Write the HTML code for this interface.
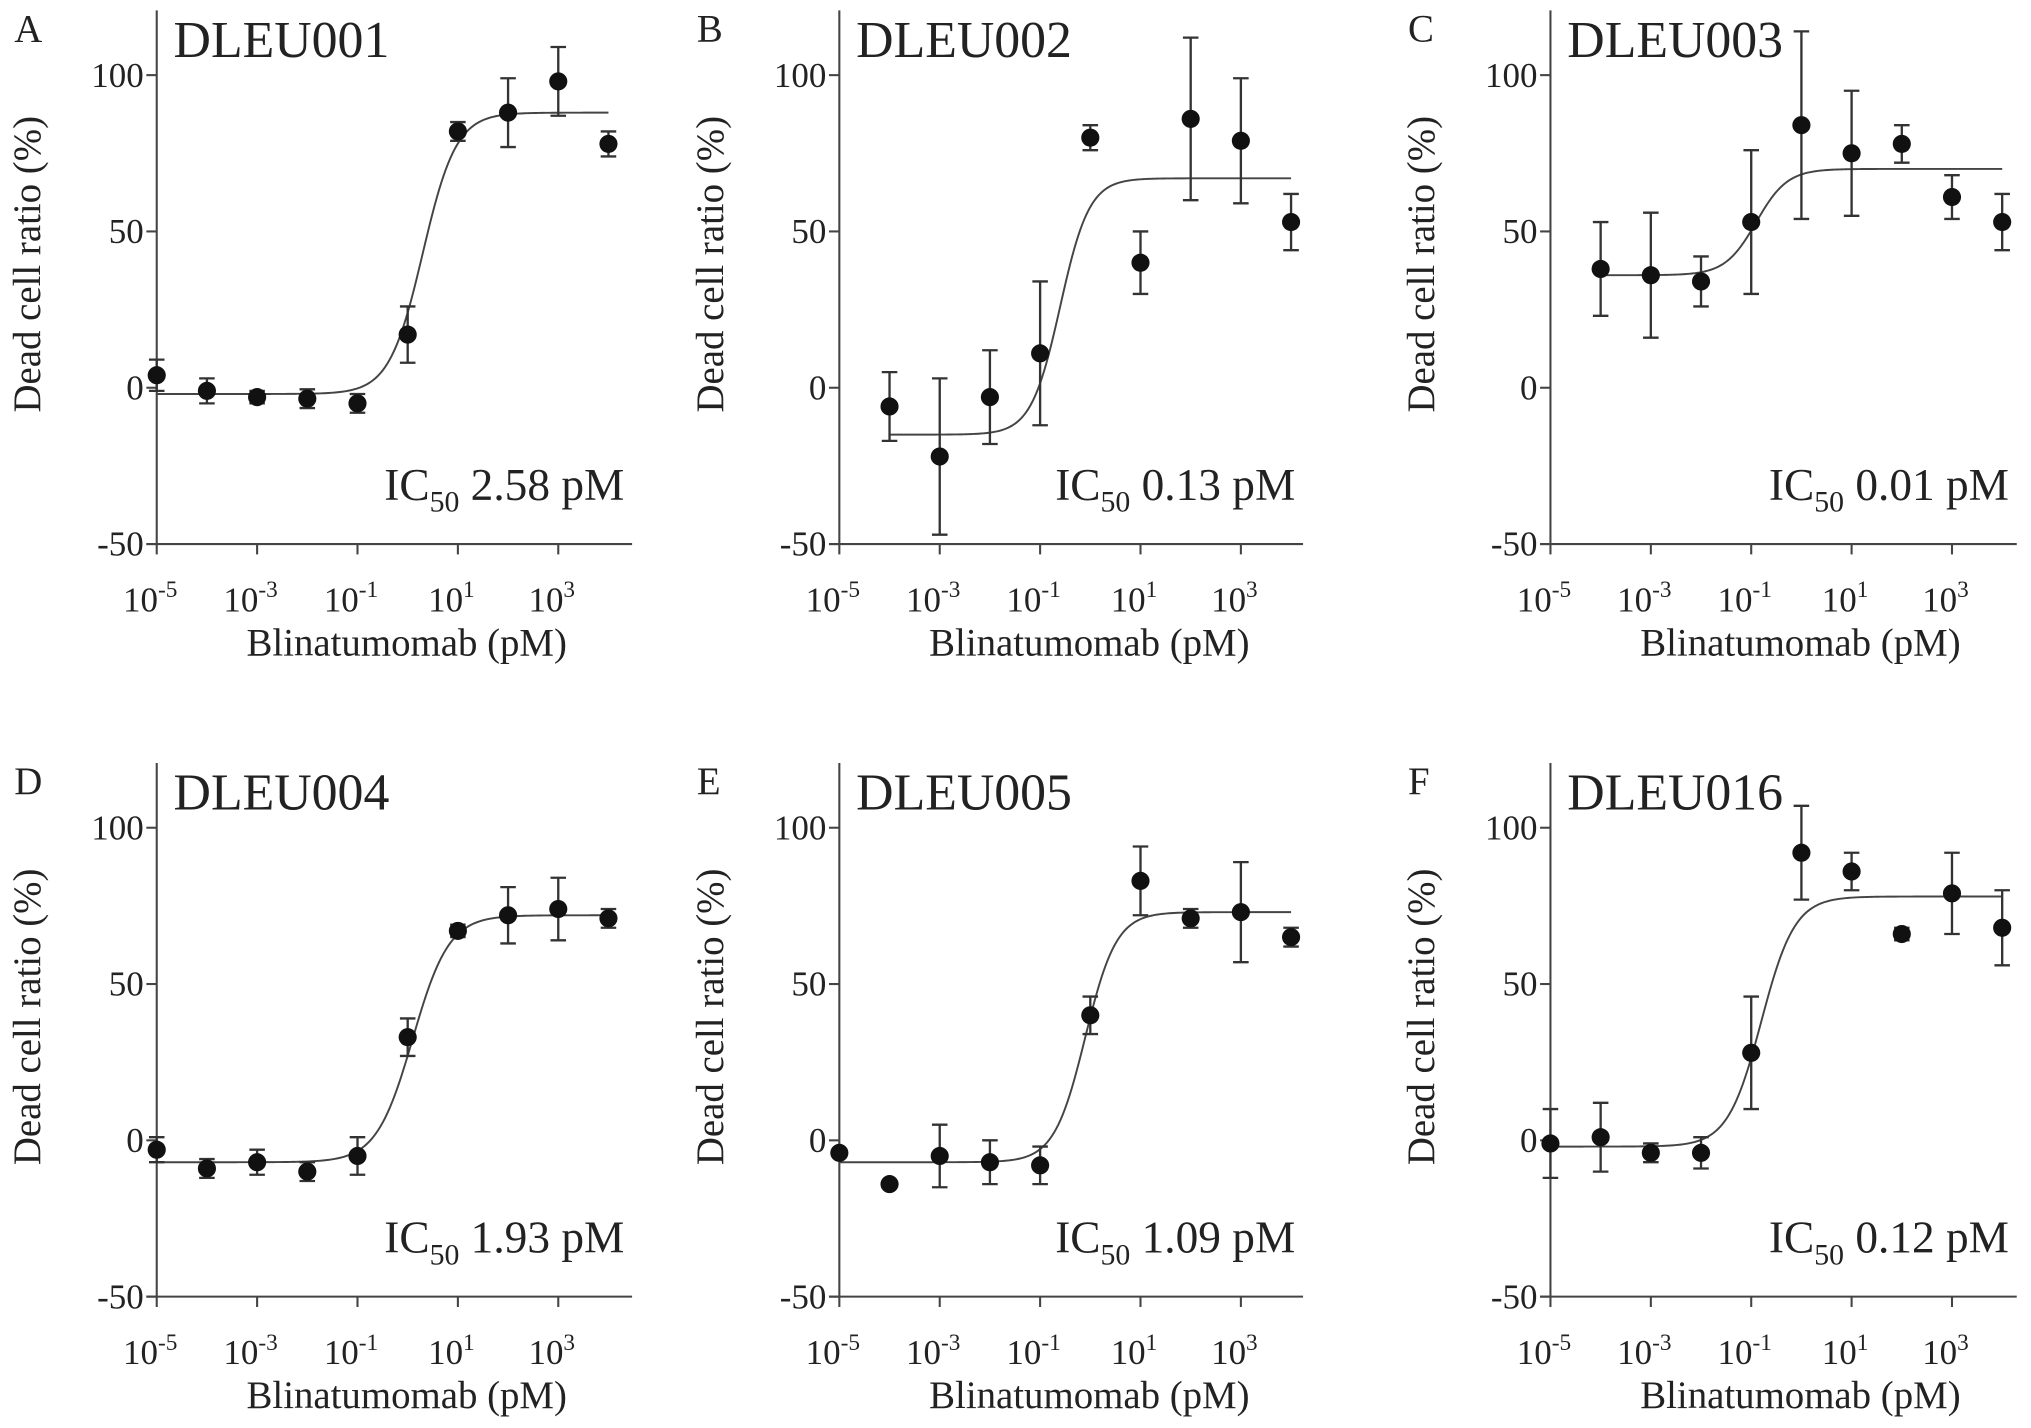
<!DOCTYPE html>
<html><head><meta charset="utf-8"><style>
html,body{margin:0;padding:0;background:#fff;}
svg{display:block;}
text{font-family:"Liberation Serif","DejaVu Serif",serif;fill:#222;}
</style></head>
<body>
<svg id="fig" width="2031" height="1428" viewBox="0 0 1568 1102.4" preserveAspectRatio="none" xmlns="http://www.w3.org/2000/svg"></svg>
<script>
// ---- data ----
const panelLetters = ["A","B","C","D","E","F"];
const sampleNames = ["DLEU001","DLEU002","DLEU003","DLEU004","DLEU005","DLEU016"];
const ic50Labels = ["2.58","0.13","0.01","1.93","1.09","0.12"];
const startLogs = [-5,-4,-4,-5,-5,-5];
const valuesA = [4,-1,-3,-3.5,-5,17,82,88,98,78];
const errorsA = [5,4,2,3,3,9,3,11,11,4];
const valuesB = [-6,-22,-3,11,80,40,86,79,53];
const errorsB = [11,25,15,23,4,10,26,20,9];
const valuesC = [38,36,34,53,84,75,78,61,53];
const errorsC = [15,20,8,23,30,20,6,7,9];
const valuesD = [-3,-9,-7,-10,-5,33,67,72,74,71];
const errorsD = [4,3,4,3,6,6,2,9,10,3];
const valuesE = [-4,-14,-5,-7,-8,40,83,71,73,65];
const errorsE = [1,1,10,7,6,6,11,3,16,3];
const valuesF = [-1,1,-4,-4,28,92,86,66,79,68];
const errorsF = [11,11,3,5,18,15,6,2,13,12];
// curve fit parameters: bottom, top, logMid, hill
const curveBottom = [-2,-15,36,-7,-7,-2];
const curveTop = [88,67,70,72,73,78];
const curveLogMid = [0.3,-0.6,-0.9,0.1,-0.1,-0.8];
const curveHill = [1.3,1.5,1.4,1.2,1.4,1.3];
const yTicks = [-50,0,50,100];
const xTickExps = [-5,-3,-1,1,3];

const allValues=[valuesA,valuesB,valuesC,valuesD,valuesE,valuesF];
const allErrors=[errorsA,errorsB,errorsC,errorsD,errorsE,errorsF];
const NS="http://www.w3.org/2000/svg";
const svg=document.getElementById('fig');
function mk(tag,attrs,parent){const e=document.createElementNS(NS,tag);for(const k in attrs)e.setAttribute(k,attrs[k]);(parent||svg).appendChild(e);return e;}
const colX=[121,648,1197], rowY=[0,581], axEnd=[367,358,360];
for(let p=0;p<6;p++){
  const c=p%3,r=Math.floor(p/3);
  const ox=colX[c], oy=rowY[r];
  const g=mk('g',{});
  
  
  const xs=l=>ox+(l+5)*38.75;
  const ys=v=>oy+58+(100-v)*362/150;
  const yb=ys(-50);
  const ya=mk('line',{x1:ox,y1:oy+8,x2:ox,y2:yb,stroke:'#444','stroke-width':1.6},g);
  
  const xa=mk('line',{x1:ox-8,y1:yb,x2:ox+axEnd[c],y2:yb,stroke:'#444','stroke-width':1.6},g);
  
  yTicks.forEach(v=>{
    mk('line',{x1:ox-8,y1:ys(v),x2:ox,y2:ys(v),stroke:'#444','stroke-width':1.6},g);
    const t=mk('text',{x:ox-10,y:ys(v)+9,'text-anchor':'end','font-size':27},g);t.textContent=v;
    
  });
  xTickExps.forEach(e=>{
    mk('line',{x1:xs(e),y1:yb,x2:xs(e),y2:yb+8,stroke:'#444','stroke-width':1.6},g);
    const t=mk('text',{x:xs(e)-5,y:yb+52,'text-anchor':'middle','font-size':27},g);
    
    t.appendChild(document.createTextNode('10'));
    const s=mk('tspan',{dy:-11,'font-size':18},t);s.textContent=e;
  });
  const xt=mk('text',{x:ox+193,y:yb+86,'text-anchor':'middle','font-size':30},g);xt.textContent='Blinatumomab (pM)';
  
  const ytt=mk('text',{x:0,y:0,'text-anchor':'middle','font-size':30,transform:`translate(${ox-90},${oy+204}) rotate(-90)`},g);ytt.textContent='Dead cell ratio (%)';
  
  const pl=mk('text',{x:ox-110,y:oy+32,'font-size':30},g);pl.textContent=panelLetters[p];
  
  const ti=mk('text',{x:ox+13,y:oy+44,'font-size':40},g);ti.textContent=sampleNames[p];
  
  const ic=mk('text',{x:ox+axEnd[c]-6,y:oy+386,'text-anchor':'end','font-size':35},g);
  
  ic.appendChild(document.createTextNode('IC'));
  const sb=mk('tspan',{dy:9,'font-size':23},ic);sb.textContent='50';
  const rest=mk('tspan',{dy:-9},ic);rest.textContent=' '+ic50Labels[p]+' pM';
  const vals=allValues[p],errs=allErrors[p];
  const l0=startLogs[p],l1=l0+vals.length-1;
  let d='';
  for(let i=0;i<=200;i++){const l=l0+(l1-l0)*i/200;
    const v=curveBottom[p]+(curveTop[p]-curveBottom[p])/(1+Math.pow(10,(curveLogMid[p]-l)*curveHill[p]));
    d+=(i?'L':'M')+xs(l).toFixed(2)+','+ys(v).toFixed(2);}
  const cv=mk('path',{d:d,fill:'none',stroke:'#444','stroke-width':1.5},g);
  
  vals.forEach((v,i)=>{
    const x=xs(l0+i);
    const eb=mk('path',{d:`M${x},${ys(v+errs[i])}V${ys(v-errs[i])}M${x-6},${ys(v+errs[i])}h12M${x-6},${ys(v-errs[i])}h12`,stroke:'#333','stroke-width':1.8,fill:'none'},g);
    
    const pt=mk('circle',{cx:x,cy:ys(v),r:7,fill:'#111'},g);
    
  });
}
</script>
</body></html>
